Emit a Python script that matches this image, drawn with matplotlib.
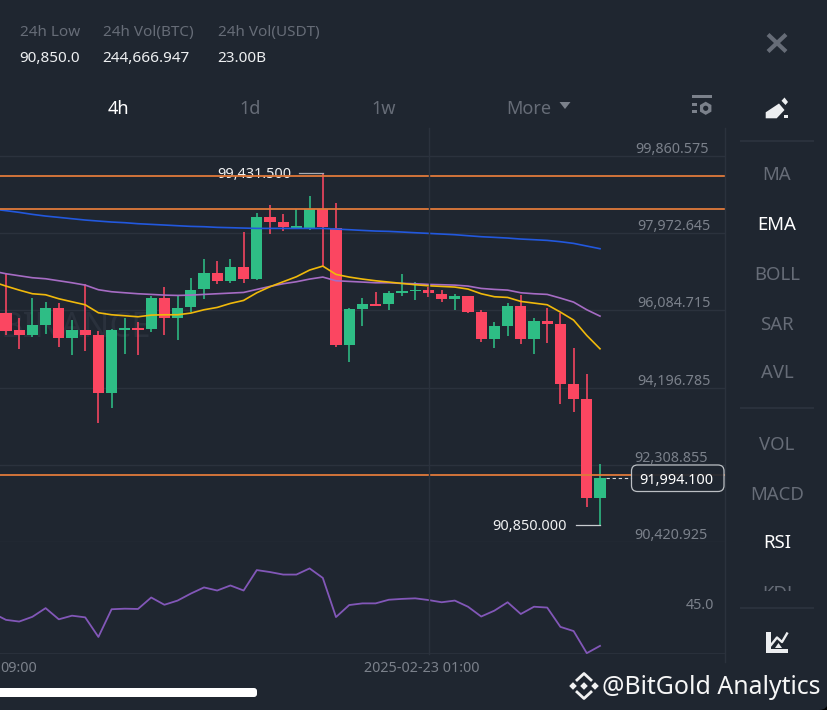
import numpy as np
import matplotlib
matplotlib.use('Agg')
import matplotlib.pyplot as plt
from matplotlib.patches import FancyBboxPatch, Polygon, Rectangle, Circle, RegularPolygon

plt.rcParams['font.family'] = ['Noto Sans', 'DejaVu Sans']

# 4h candles
opens = [96010, 95594, 95480, 95731, 96146, 95399, 95594, 95487, 94056, 95601, 95658, 95618, 96383, 95887, 96156, 96595,
         97001, 96805, 97147, 96854, 98353, 98239, 98092, 98100, 98549, 98085, 95235, 96122, 96236, 96236, 96512, 96546,
         96586, 96488, 96366, 96439, 96048, 95382, 95699, 96195, 95374, 95814, 95755, 94283, 93909, 91499]
highs = [96962, 95894, 96376, 96278, 96253, 95838, 96717, 95577, 95626, 95902, 95797, 96432, 96659, 96439, 96864, 97328,
         97294, 97343, 97987, 98466, 98647, 98434, 98556, 98874, 99431.5, 98710, 96139, 96383, 96529, 96561, 96969, 96781,
         96651, 96586, 96488, 96439, 96097, 95804, 96268, 96449, 95902, 96131, 96010, 95162, 94534, 92346]
lows = [95480, 95137, 95438, 95504, 95186, 94991, 95096, 93323, 93689, 95008, 94991, 95560, 95480, 95350, 96048, 96351,
        96732, 96742, 96742, 96822, 97946, 98019, 98085, 98043, 97164, 95194, 94820, 95699, 96195, 96097, 96439, 96327,
        96415, 96292, 96090, 96017, 95316, 95169, 95462, 95252, 95008, 95277, 93787, 93606, 91286, 90850]
closes = [95585, 95480, 95724, 96146, 95399, 95594, 95487, 94056, 95609, 95658, 95609, 96383, 95887, 96146, 96586, 97001,
          96805, 97147, 96854, 98353, 98239, 98109, 98141, 98549, 98117, 95235, 96114, 96236, 96195, 96505, 96554, 96586,
          96498, 96366, 96439, 96048, 95382, 95692, 96195, 95374, 95814, 95755, 94290, 93909, 91499, 91994.1]

# EMA lines, first value is the candle just off the left edge
ema_fast = [96780, 96676, 96578, 96489, 96464, 96367, 96293, 96220, 96025, 95976, 95952, 95927, 95968, 95976, 95976, 96017,
            96098, 96155, 96253, 96326, 96513, 96660, 96782, 96904, 97067, 97164, 96961, 96896, 96847, 96806, 96774, 96741,
            96709, 96684, 96668, 96652, 96603, 96489, 96416, 96399, 96302, 96261, 96220, 96041, 95846, 95471, 95146]
ema_mid = [97042, 96977, 96928, 96880, 96855, 96806, 96757, 96700, 96587, 96538, 96513, 96489, 96473, 96456, 96448, 96456,
           96473, 96489, 96505, 96521, 96595, 96668, 96733, 96782, 96847, 96896, 96806, 96790, 96774, 96757, 96757, 96741,
           96733, 96717, 96709, 96700, 96676, 96619, 96595, 96578, 96513, 96489, 96473, 96383, 96285, 96098, 95943]
ema_slow = [98556, 98516, 98475, 98426, 98385, 98353, 98320, 98288, 98263, 98239, 98223, 98198, 98182, 98166, 98149, 98133,
            98125, 98109, 98101, 98092, 98084, 98084, 98084, 98084, 98084, 98084, 98068, 98052, 98035, 98019, 98011, 97995,
            97978, 97962, 97946, 97930, 97905, 97881, 97865, 97848, 97824, 97808, 97791, 97759, 97718, 97653, 97588]
rsi = [41.6, 39.2, 38.6, 40.3, 43.4, 39.4, 40.7, 40.1, 33.1, 43.0, 43.2, 43.1, 47.2, 44.6, 46.1, 48.6,
       50.8, 49.7, 51.5, 49.7, 57.0, 56.3, 55.4, 55.4, 57.6, 54.2, 40.2, 44.5, 45.1, 45.1, 46.4, 46.7,
       46.9, 46.3, 45.5, 46.1, 43.9, 40.4, 42.5, 45.5, 41.3, 43.9, 43.6, 36.7, 35.2, 27.3, 29.9]

price_levels = [99362, 98549, 92068]
price_ticks = [99860.575, 97972.645, 96084.715, 94196.785, 92308.855, 90420.925]
header_titles = ['24h Low', '24h Vol(BTC)', '24h Vol(USDT)']
header_values = ['90,850.0', '244,666.947', '23.00B']
tabs = ['4h', '1d', '1w']
indicators = ['MA', 'EMA', 'BOLL', 'SAR', 'AVL', 'VOL', 'MACD', 'RSI', 'KDJ']

BG = '#1f2630'
GRID = '#2b323d'
RED = '#fb4661'
GREEN = '#2ebd85'
GREY = '#7b818b'
DIM = '#666c77'
ORANGE = '#e07a3a'
W, H = 828, 710

fig = plt.figure(figsize=(8.28, 7.1), dpi=100, facecolor='black')


def rect(x0, y0, x1, y1):
    return [x0 / W, 1 - y1 / H, (x1 - x0) / W, (y1 - y0) / H]


# background with the rounded right corners
back = fig.add_axes([0, 0, 1, 1], zorder=0)
back.set_xlim(0, W)
back.set_ylim(H, 0)
back.axis('off')
back.add_patch(FancyBboxPatch((-40, -40), W + 40, H + 40, boxstyle='round,pad=0,rounding_size=9', fc=BG, ec='none'))

# price panel
ax = fig.add_axes(rect(0, 128, 725, 542.4), zorder=1)
ax.patch.set_alpha(0)
ax.set_xlim(-0.4545, 54.47)
ax.set_ylim(90420.925, 90420.925 + 414.4 * 24.404)
for s in ax.spines.values():
    s.set_visible(False)
ax.tick_params(left=False, bottom=False, labelleft=False, labelbottom=False)
for t in price_ticks:
    ax.axhline(t, color=GRID, lw=1, zorder=1)
ax.text(5.3, 95650, 'BINANCE', color='#2a313c', fontsize=25, ha='center', va='center', zorder=1)

idx = np.arange(len(opens))
o = np.array(opens)
c = np.array(closes)
colors = [GREEN if c[i] >= o[i] else RED for i in idx]
ax.vlines(idx, lows, highs, colors=colors, lw=1.15, zorder=2)
ax.bar(idx, np.maximum(np.abs(c - o), 40), bottom=np.minimum(o, c), width=0.86, color=colors, zorder=2.5)

line_x = np.arange(-1, len(opens))
ax.plot(line_x, ema_slow, color='#2258dd', lw=1.2, zorder=3)
ax.plot(line_x, ema_mid, color='#a66cc4', lw=1.2, zorder=3.1)
ax.plot(line_x, ema_fast, color='#f0b90b', lw=1.2, zorder=3.2)

# high and low markers
hi = int(np.argmax(highs))
lo = int(np.argmin(lows))
ax.plot([hi - 1.8, hi], [highs[hi], highs[hi]], color='#a8acb2', lw=0.9, zorder=4)
ax.annotate('99,431.500', (hi - 2.35, highs[hi]), xytext=(0, -1.5), textcoords='offset pixels',
            color='#f0f1f2', fontsize=10.4, ha='right', va='center', zorder=4)
ax.plot([lo - 1.8, lo], [lows[lo], lows[lo]], color='#c8ccd0', lw=0.9, zorder=4)
ax.annotate('90,850.000', (lo - 2.5, lows[lo]), xytext=(0, -1.5), textcoords='offset pixels',
            color='#f0f1f2', fontsize=10.4, ha='right', va='center', zorder=4)

for lev in price_levels:
    ax.axhline(lev, color=ORANGE, lw=1.3, zorder=5)
ax.plot([45.45, 47.4], [closes[-1], closes[-1]], color='#d8dadd', lw=0.8, ls=(0, (3, 2.5)), zorder=5)

for t, xr in zip(price_ticks, [709, 711, 711, 711, 708, 708]):
    ax.annotate(f'{t:,.3f}', (xr / 725, t), xycoords=('axes fraction', 'data'), xytext=(0, 6.5), textcoords='offset pixels',
                color=GREY, fontsize=10.3, ha='right', va='center', zorder=6)

# rsi panel
ax2 = fig.add_axes(rect(0, 542.4, 725, 654), zorder=1)
ax2.patch.set_alpha(0)
ax2.set_xlim(-0.4545, 54.47)
ax2.set_ylim(27, 66.9)
for s in ax2.spines.values():
    s.set_visible(False)
ax2.tick_params(left=False, bottom=False, labelleft=False, labelbottom=False)
ax2.axhline(27, color=GRID, lw=2, zorder=1)
ax2.plot(line_x, rsi, color='#8257b8', lw=1.3, zorder=3)
ax2.annotate('45.0', (714 / 725, 45), xycoords=('axes fraction', 'data'), xytext=(0, -1.5), textcoords='offset pixels',
             color=GREY, fontsize=10.3, ha='right', va='center')

# everything around the chart, in screen pixels
ui = fig.add_axes([0, 0, 1, 1], zorder=2)
ui.patch.set_alpha(0)
ui.set_xlim(0, W)
ui.set_ylim(H, 0)
ui.axis('off')

ui.plot([429, 429], [128, 654], color=GRID, lw=1, zorder=1)
ui.plot([725.5, 725.5], [128, 662], color=GRID, lw=1, zorder=1)

for x, a, b in zip([20, 103, 218], header_titles, header_values):
    ui.text(x, 32.5, a, color=DIM, fontsize=11, va='center')
    ui.text(x - 0.5, 58.5, b, color='#eef0f2', fontsize=11, va='center')

for x, t in zip([118, 250, 384], tabs):
    ui.text(x, 108.5, t, color='white' if t == '4h' else DIM, fontsize=13, ha='center', va='center')
ui.text(529, 108.5, 'More', color=DIM, fontsize=13, ha='center', va='center')
ui.add_patch(Polygon([(559.5, 102), (570.5, 102), (565, 109)], fc=GREY, ec='none'))

# settings icon
ui.add_patch(Rectangle((691.7, 95), 20.6, 3.2, fc=GREY, ec='none'))
ui.add_patch(Rectangle((691.7, 103.3), 5, 3, fc=GREY, ec='none'))
ui.add_patch(Rectangle((691.7, 110), 5, 3, fc=GREY, ec='none'))
ui.add_patch(RegularPolygon((705.7, 108.3), 6, radius=6.6, fc=GREY, ec='none'))
ui.add_patch(Circle((705.7, 108.3), 2.6, fc=BG, ec='none'))

# close cross
ui.plot([768, 786], [34.5, 51.5], color=DIM, lw=3, solid_capstyle='butt')
ui.plot([768, 786], [51.5, 34.5], color=DIM, lw=3, solid_capstyle='butt')

# pencil icon
ui.add_patch(Polygon([(765.7, 118.3), (765.7, 112.3), (779, 103.5), (784.5, 110), (776.7, 118.3)], fc='#eceef0', ec='none'))
ui.add_patch(Polygon([(781.5, 100.8), (784.5, 97.5), (788, 102), (785.5, 105)], fc='#eceef0', ec='none'))
ui.add_patch(Rectangle((784.5, 114.5), 3.5, 3.8, fc='#eceef0', ec='none'))

# indicator list
for name, y in zip(indicators, [175.5, 225.5, 274.5, 324.5, 373.5, 445.5, 494.5, 543.5, 593.5]):
    active = name in ('EMA', 'RSI')
    ui.text(777, y, name, color='white' if active else DIM, fontsize=13.4, ha='center', va='center', zorder=2)
ui.add_patch(Rectangle((735, 591), 85, 17, fc=BG, ec='none', zorder=3))
for y in [141, 408, 608]:
    ui.plot([741, 813], [y, y], color=GRID, lw=1.4, zorder=4)

# chart icon
ui.add_patch(Polygon([(765.7, 631.7), (771, 631.7), (771, 648.5), (787.7, 648.5), (787.7, 653.3), (765.7, 653.3)], fc='#eceef0', ec='none'))
ui.plot([771, 777, 782, 787], [645, 637.5, 642, 633.5], color='#eceef0', lw=1.7)
ui.add_patch(Polygon([(775, 648), (782, 648), (778.5, 643)], fc='#eceef0', ec='none'))

# current price tag
ui.add_patch(FancyBboxPatch((631.5, 465), 92.5, 26.5, boxstyle='round,pad=0,rounding_size=6', fc=BG, ec='#c8ccd0', lw=0.9, alpha=0.93, zorder=5))
ui.text(676.5, 481, '91,994.100', color='white', fontsize=10.4, ha='center', va='center', zorder=6)

# time axis
ui.text(0.5, 668.5, '09:00', color=GREY, fontsize=10.3, ha='left', va='center')
ui.text(421.5, 668.5, '2025-02-23 01:00', color=GREY, fontsize=10.3, ha='center', va='center')

# scroll bar
ui.add_patch(FancyBboxPatch((-20, 688), 277, 9, boxstyle='round,pad=0,rounding_size=3', fc='white', ec='none'))

# logo and handle
for cx in [573, 584, 595]:
    ui.add_patch(RegularPolygon((cx, 686), 4, radius=3.8, fc='#f2f2f2', ec='none'))
ui.plot([577, 584, 591], [680, 673.5, 680], color='#f2f2f2', lw=2)
ui.plot([577, 584, 591], [692, 698.5, 692], color='#f2f2f2', lw=2)
ui.text(602, 687.5, '@BitGold Analytics', color='#f6f6f6', fontsize=17.9, va='center')

fig.savefig('out.png', dpi=100, facecolor=fig.get_facecolor())
